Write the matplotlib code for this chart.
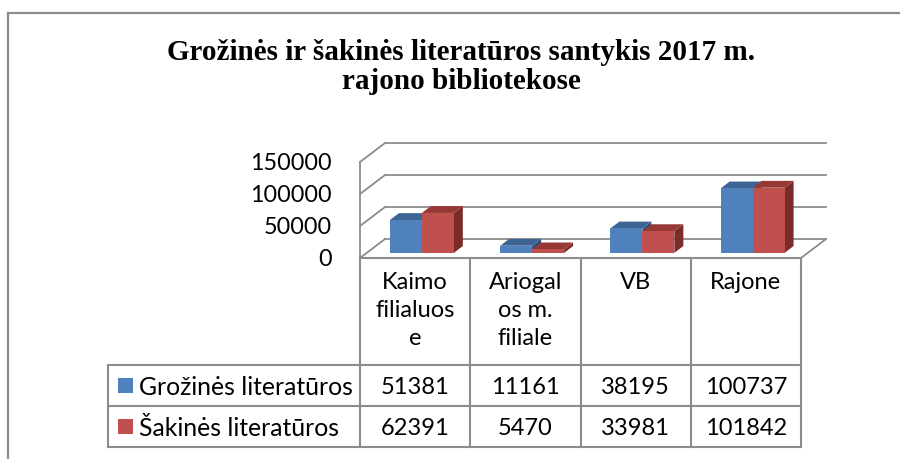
import numpy as np
import matplotlib
matplotlib.use("Agg")
from matplotlib import pyplot as plt
from matplotlib.patches import Polygon, Rectangle
from matplotlib.transforms import Affine2D, blended_transform_factory

# Daten
kategorijos = ["Kaimo\nfilialuos\ne", "Ariogal\nos m.\nfiliale", "VB", "Rajone"]
serijos = ["Grožinės literatūros", "Šakinės literatūros"]
grozine = [51381, 11161, 38195, 100737]
sakine = [62391, 5470, 33981, 101842]
y_ticks = [0, 50000, 100000, 150000]
pavadinimas = "Grožinės ir šakinės literatūros santykis 2017 m.\nrajono bibliotekose"

spalvos = ["#4F81BD", "#C0504D"]
virsus = ["#3C6593", "#963835"]
sonas = ["#30507A", "#7B2C2A"]
linija = "#8C8C8C"

W, H = 900, 459
fig = plt.figure(figsize=(W / 100, H / 100), dpi=100)

# pikseliu koordinates (nuo virsaus)
pix = Affine2D().scale(1 / W, -1 / H).translate(0, 1) + fig.transFigure

# pagrindine asis: 0..4 kategorijos, 0..150000
x0p, x1p, y0p, y1p = 360, 801, 258, 162
ax = fig.add_axes([x0p / W, 1 - y0p / H, (x1p - x0p) / W, (y0p - y1p) / H])
ax.set_xlim(0, len(kategorijos))
ax.set_ylim(0, 150000)
for s in ax.spines.values():
    s.set_visible(False)
ax.set_xticks([])
ax.set_yticks(y_ticks)
ax.set_yticklabels([str(v) for v in y_ticks], fontfamily="Lato", fontsize=16.8)
ax.tick_params(axis="y", length=0, pad=20)
ax.patch.set_alpha(0)

# gylis (3D efektas)
px_x = len(kategorijos) / (x1p - x0p)
px_y = 150000 / (y0p - y1p)
DX = 25 * px_x
DY = 19 * px_y
n = len(kategorijos)

# galine siena ir sonine siena
for v in y_ticks:
    ax.plot([DX, n + DX], [v + DY, v + DY], color=linija, lw=1.3, clip_on=False, zorder=1)
    ax.plot([0, DX], [v, v + DY], color=linija, lw=1.3, clip_on=False, zorder=1)
ax.plot([0, 0], [0, y_ticks[-1]], color=linija, lw=1.3, clip_on=False, zorder=1)
ax.plot([n, n + DX], [0, DY], color=linija, lw=1.3, clip_on=False, zorder=1)

# stulpeliai
w = 0.29
f0 = 0.27
t = 0.36
for i in range(n):
    for j, vals in enumerate([grozine, sakine]):
        v = vals[i]
        xl = i + 0.5 - w + j * w + f0 * DX
        b = f0 * DY
        top = b + v
        front = Rectangle((xl, b), w, v, facecolor=spalvos[j], edgecolor="none", zorder=3)
        tp = Polygon([(xl, top), (xl + w, top), (xl + w + t * DX, top + t * DY),
                      (xl + t * DX, top + t * DY)], closed=True,
                     facecolor=virsus[j], edgecolor="none", zorder=3)
        sd = Polygon([(xl + w, b), (xl + w + t * DX, b + t * DY),
                      (xl + w + t * DX, top + t * DY), (xl + w, top)], closed=True,
                     facecolor=sonas[j], edgecolor="none", zorder=3)
        for p in (sd, tp, front):
            p.set_clip_on(False)
            ax.add_patch(p)

# lentele
col = blended_transform_factory(ax.transData, pix)
r_top, r1, r2, r_bot = 258, 365, 406, 447
tx_left = 108
for k in range(n + 1):
    ax.plot([k, k], [r_top, r_bot], color=linija, lw=1.5, transform=col, clip_on=False)
ax.plot([0, n], [r_top, r_top], color=linija, lw=1.5, transform=col, clip_on=False)
for yy in (r1, r2, r_bot):
    fig.add_artist(plt.Line2D([tx_left, x1p], [yy, yy], color=linija, lw=1.5, transform=pix))
fig.add_artist(plt.Line2D([tx_left, tx_left], [r1, r_bot], color=linija, lw=1.5, transform=pix))

for k, lab in enumerate(kategorijos):
    ax.text(k + 0.5, 272, lab, transform=col, ha="center", va="top",
            fontfamily="Lato", fontsize=17, linespacing=1.4)

for j, (nm, vals) in enumerate(zip(serijos, [grozine, sakine])):
    yc = (r1 + r2) / 2 if j == 0 else (r2 + r_bot) / 2
    fig.add_artist(Rectangle((118, yc - 7.5), 15, 15, facecolor=spalvos[j],
                             edgecolor="none", transform=pix))
    fig.text(139, yc, nm, transform=pix, ha="left", va="center_baseline",
             fontfamily="Lato", fontsize=17.8)
    for k, v in enumerate(vals):
        ax.text(k + 0.5, yc, str(v), transform=col, ha="center", va="center_baseline",
                fontfamily="Lato", fontsize=17)

# pavadinimas
fig.text(461, 39, pavadinimas, transform=pix, ha="center", va="top",
         fontfamily="Liberation Serif", fontweight="bold", fontsize=21, linespacing=1.08)

# remelis
fig.add_artist(plt.Line2D([8, W], [13, 13], color=linija, lw=1.6, transform=pix))
fig.add_artist(plt.Line2D([8, 8], [13, H], color=linija, lw=1.6, transform=pix))

fig.savefig("out.png", dpi=100)
